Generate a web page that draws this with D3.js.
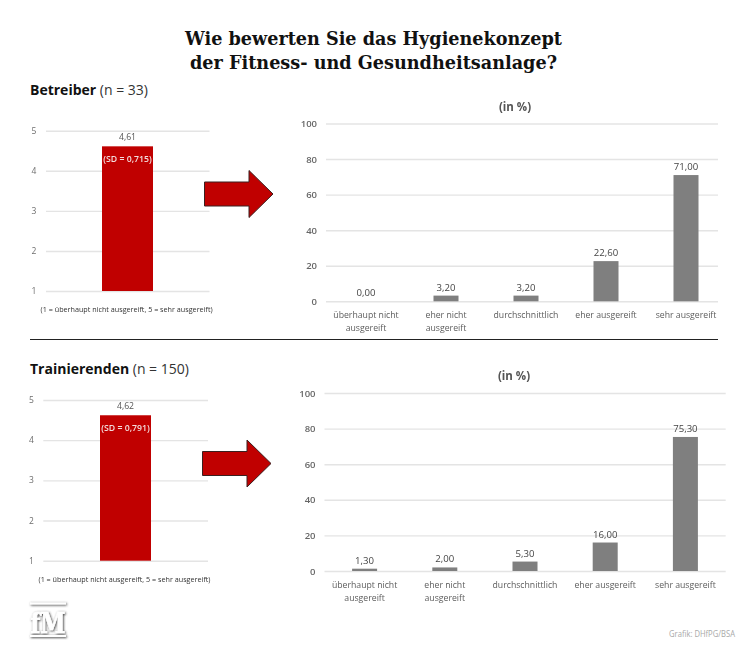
<!DOCTYPE html>
<html>
<head>
<meta charset="utf-8">
<script src="https://cdn.jsdelivr.net/npm/d3@7"></script>
<style>
  html, body { margin: 0; padding: 0; background: #fff; }
  svg { display: block; font-family: "Open Sans", sans-serif; }
  .grid line { stroke: #e4e4e4; stroke-width: 1.4; }
  .soft { filter: blur(0.3px); }
</style>
</head>
<body>
<svg id="chart" width="748" height="652"></svg>
<script>
const titleLines = ["Wie bewerten Sie das Hygienekonzept", "der Fitness- und Gesundheitsanlage?"];
const titleWidths = [377, 367];

const scoreTicks = [1, 2, 3, 4, 5];
const percentTicks = [0, 20, 40, 60, 80, 100];
const scaleNote = "(1 = überhaupt nicht ausgereift, 5 = sehr ausgereift)";
const percentTitle = "(in %)";
const categories = [
  ["überhaupt nicht", "ausgereift"],
  ["eher nicht", "ausgereift"],
  ["durchschnittlich"],
  ["eher ausgereift"],
  ["sehr ausgereift"]
];

const betreiberMean = 4.61;
const betreiberSd = "(SD = 0,715)";
const betreiberPercent = [0, 3.2, 3.2, 22.6, 71];

const trainierendeMean = 4.62;
const trainierendeSd = "(SD = 0,791)";
const trainierendePercent = [1.3, 2, 5.3, 16, 75.3];

const deLocale = d3.formatLocale({ decimal: ",", thousands: ".", grouping: [3], currency: ["", "€"] });
const fmt2 = deLocale.format(".2f");

const svg = d3.select("#chart");

// heading
titleLines.forEach((line, i) => {
  svg.append("text")
    .attr("x", 373.5)
    .attr("y", 45 + i * 23.5)
    .attr("text-anchor", "middle")
    .attr("textLength", titleWidths[i])
    .attr("lengthAdjust", "spacingAndGlyphs")
    .style("font-family", "'DejaVu Serif', serif")
    .style("font-weight", "700")
    .style("font-size", "18.5px")
    .style("fill", "#111")
    .text(line);
});

function panelHeading(x, y, bold, rest) {
  const t = svg.append("text").attr("x", x).attr("y", y).style("font-size", "14px");
  t.append("tspan").style("font-weight", "700").style("fill", "#111").text(bold);
  t.append("tspan").style("fill", "#333").text(" " + rest);
}

function meanChart(o) {
  const y = d3.scaleLinear().domain([1, 5]).range([o.bottom, o.top]);
  const g = svg.append("g").attr("class", "soft");

  g.append("g").attr("class", "grid")
    .attr("transform", `translate(${o.left},0)`)
    .call(d3.axisLeft(y).tickValues(scoreTicks).tickSize(0).tickFormat(""))
    .call(s => s.select(".domain").remove())
    .selectAll(".tick line").attr("x2", o.right - o.left);

  scoreTicks.forEach(d => {
    g.append("text").attr("x", o.labelX).attr("y", y(d) + 3)
      .attr("text-anchor", "middle")
      .style("font-size", "8.5px").style("fill", "#6e6e6e").text(d);
  });

  g.append("rect")
    .attr("x", o.barX).attr("width", o.barW)
    .attr("y", y(o.mean)).attr("height", y(1) - y(o.mean))
    .attr("fill", "#c00000");

  g.append("text").attr("x", o.barX + o.barW / 2).attr("y", y(o.mean) - 6.5)
    .attr("text-anchor", "middle")
    .style("font-size", "8.7px").style("fill", "#555")
    .text(fmt2(o.mean));

  g.append("text").attr("x", o.barX + o.barW / 2).attr("y", y(o.mean) + 15.5)
    .attr("text-anchor", "middle")
    .style("font-size", "8.7px").style("font-weight", "600").style("fill", "#f3dcdc")
    .text(o.sd);

  g.append("text").attr("x", o.noteX).attr("y", o.bottom + 21)
    .attr("textLength", 172).attr("lengthAdjust", "spacingAndGlyphs")
    .style("font-size", "8px").style("fill", "#333")
    .text(scaleNote);
}

function percentChart(o) {
  const x = d3.scaleBand().domain(d3.range(categories.length)).range([o.left, o.left + 5 * o.step]);
  const y = d3.scaleLinear().domain([0, 100]).range([o.bottom, o.top]);
  const cx = i => x(i) + x.bandwidth() / 2;
  const g = svg.append("g").attr("class", "soft");

  g.append("g").attr("class", "grid")
    .attr("transform", `translate(${o.left},0)`)
    .call(d3.axisLeft(y).tickValues(percentTicks).tickSize(0).tickFormat(""))
    .call(s => s.select(".domain").remove())
    .selectAll(".tick line").attr("x2", o.right - o.left);

  percentTicks.forEach(d => {
    g.append("text").attr("x", o.left - 9).attr("y", y(d) + 3.5)
      .attr("text-anchor", "end")
      .style("font-size", "9.5px").style("font-weight", "600").style("fill", "#666").text(d);
  });

  g.selectAll("rect.bar").data(o.values).enter().append("rect")
    .attr("class", "bar")
    .attr("x", (d, i) => cx(i) - 12.5).attr("width", 25)
    .attr("y", d => y(d)).attr("height", d => y(0) - y(d))
    .attr("fill", "#7f7f7f");

  g.selectAll("text.val").data(o.values).enter().append("text")
    .attr("class", "val")
    .attr("x", (d, i) => cx(i)).attr("y", d => y(d) - 5)
    .attr("text-anchor", "middle")
    .style("font-size", "9.6px").style("fill", "#444")
    .text(d => fmt2(d));

  categories.forEach((lines, i) => {
    lines.forEach((line, j) => {
      g.append("text").attr("x", cx(i)).attr("y", o.bottom + 17 + j * 12.5)
        .attr("text-anchor", "middle")
        .style("font-size", "8.7px").style("fill", "#5c5c5c").text(line);
    });
  });

  g.append("text").attr("x", o.titleX).attr("y", o.titleY)
    .attr("text-anchor", "middle")
    .style("font-size", "11.5px").style("font-weight", "700").style("fill", "#555")
    .text(percentTitle);
}

// block arrow, drawn relative to its left edge and mid line
function arrow(x0, mid) {
  const pts = [[0, -12], [44.5, -12], [44.5, -23.5], [68.5, 0], [44.5, 23.5], [44.5, 12], [0, 12]];
  svg.append("path")
    .attr("d", d3.line()(pts) + "Z")
    .attr("transform", `translate(${x0},${mid})`)
    .attr("fill", "#c00000").attr("stroke", "#3a2020").attr("stroke-width", 1);
}

panelHeading(30, 95, "Betreiber", "(n = 33)");
meanChart({ left: 46, right: 209.5, top: 130.7, bottom: 291, labelX: 34, barX: 102, barW: 51,
  noteX: 40.6, mean: betreiberMean, sd: betreiberSd });
arrow(204.5, 194);
percentChart({ left: 326, right: 718, step: 80, top: 123.5, bottom: 301.3, titleX: 515, titleY: 111,
  values: betreiberPercent });

svg.append("line").attr("x1", 30).attr("x2", 718).attr("y1", 339.5).attr("y2", 339.5)
  .attr("stroke", "#222").attr("stroke-width", 1.2);

panelHeading(30, 374, "Trainierenden", "(n = 150)");
meanChart({ left: 43.3, right: 208, top: 400, bottom: 560.7, labelX: 31.5, barX: 100, barW: 51,
  noteX: 38.5, mean: trainierendeMean, sd: trainierendeSd });
arrow(202.5, 463.5);
percentChart({ left: 324.5, right: 725.7, step: 80.2, top: 393, bottom: 571, titleX: 514, titleY: 380,
  values: trainierendePercent });

// source
svg.append("text").attr("x", 669).attr("y", 637)
  .attr("textLength", 66).attr("lengthAdjust", "spacingAndGlyphs")
  .style("font-size", "8.5px").style("fill", "#a8a8a8")
  .text("Grafik: DHfPG/BSA");

// fM logo, white with a soft shadow
const defs = svg.append("defs");
const shadow = defs.append("filter").attr("id", "logoShadow")
  .attr("x", "-20%").attr("y", "-20%").attr("width", "140%").attr("height", "140%");
shadow.append("feDropShadow").attr("dx", 0.8).attr("dy", 0.8).attr("stdDeviation", 1.1)
  .attr("flood-color", "#333").attr("flood-opacity", 1);

const logo = svg.append("g").attr("filter", "url(#logoShadow)").attr("fill", "#fff");
logo.append("rect").attr("x", 30).attr("y", 602.5).attr("width", 36).attr("height", 2);
logo.append("rect").attr("x", 30).attr("y", 635).attr("width", 36).attr("height", 2);
logo.append("text").attr("x", 48).attr("y", 632.5).attr("text-anchor", "middle")
  .style("font-family", "'DejaVu Serif', serif").style("font-weight", "700").style("font-size", "27px")
  .style("stroke", "#fff").style("stroke-width", 0.7)
  .attr("textLength", 35).attr("lengthAdjust", "spacingAndGlyphs")
  .text("fM");
</script>
</body>
</html>
